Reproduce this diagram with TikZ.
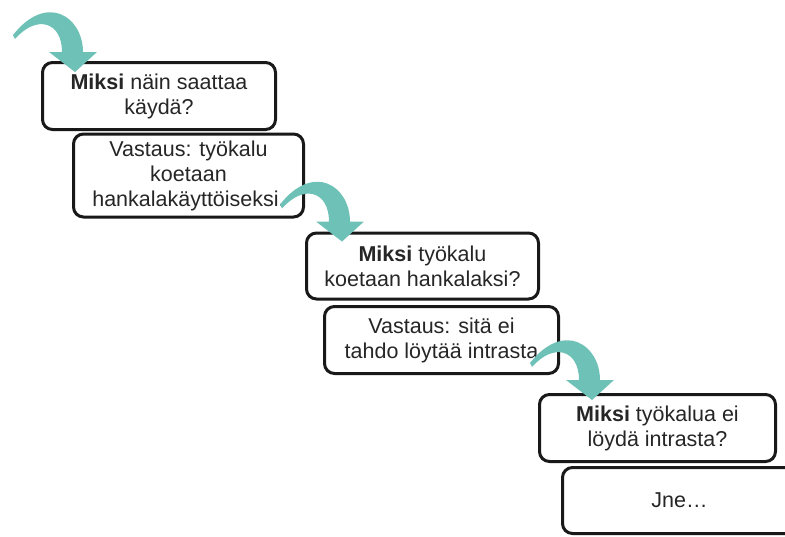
\documentclass[tikz,border=0pt]{standalone}
\usepackage{fontspec}
\setmainfont{Liberation Sans}
\definecolor{teal1}{RGB}{110,193,183}
\definecolor{txt}{RGB}{38,38,38}
\begin{document}
\begin{tikzpicture}[x=1pt,y=-1pt,
  box/.style={draw=black!90, line width=3pt, rounded corners=10pt, fill=white,
    align=center, inner sep=0pt, text=txt,
    font=\fontsize{21.5}{25}\selectfont},
  turnarrow/.pic={
    \fill[teal1] (8,-20) .. controls (8,-55) and (-28,-80) .. (-62,-37)
      -- (-60,-33) .. controls (-38,-58) and (-13,-50) .. (-13,-20)
      -- (-26,-20) -- (0,0) -- (22,-20) -- cycle;
  }]
\useasboundingbox (0,0) rectangle (785,536);
\clip (0,0) rectangle (785,536);
\node[box, minimum width=233pt, minimum height=67pt] (b1) at (159,96)
  {\textbf{Miksi} näin saattaa\\käydä?};
\node[box, minimum width=230pt, minimum height=83pt] (b2) at (188.5,175.5)
  {Vastaus: työkalu\\koetaan\\hankalakäyttöiseksi.};
\node[box, minimum width=232pt, minimum height=66pt] (b3) at (422.5,266)
  {\textbf{Miksi} työkalu\\koetaan hankalaksi?};
\node[box, minimum width=234pt, minimum height=67pt] (b4) at (441.5,340)
  {Vastaus: sitä ei\\tahdo löytää intrasta};
\node[box, minimum width=236pt, minimum height=67pt] (b5) at (657.5,428)
  {\textbf{Miksi} työkalua ei\\löydä intrasta?};
\node[box, minimum width=244pt, minimum height=66pt, anchor=west] (b6) at (561,500.5)
  {\hspace*{-10pt}Jne\ldots};
\coordinate (t1) at ([shift={(34,11)}]b1.north west);
\coordinate (t2) at ([shift={(37,10)}]b3.north west);
\coordinate (t3) at ([shift={(54,7)}]b5.north west);
\pic at (t1) {turnarrow};
\pic at (t2) {turnarrow};
\pic at (t3) {turnarrow};
\end{tikzpicture}
\end{document}
